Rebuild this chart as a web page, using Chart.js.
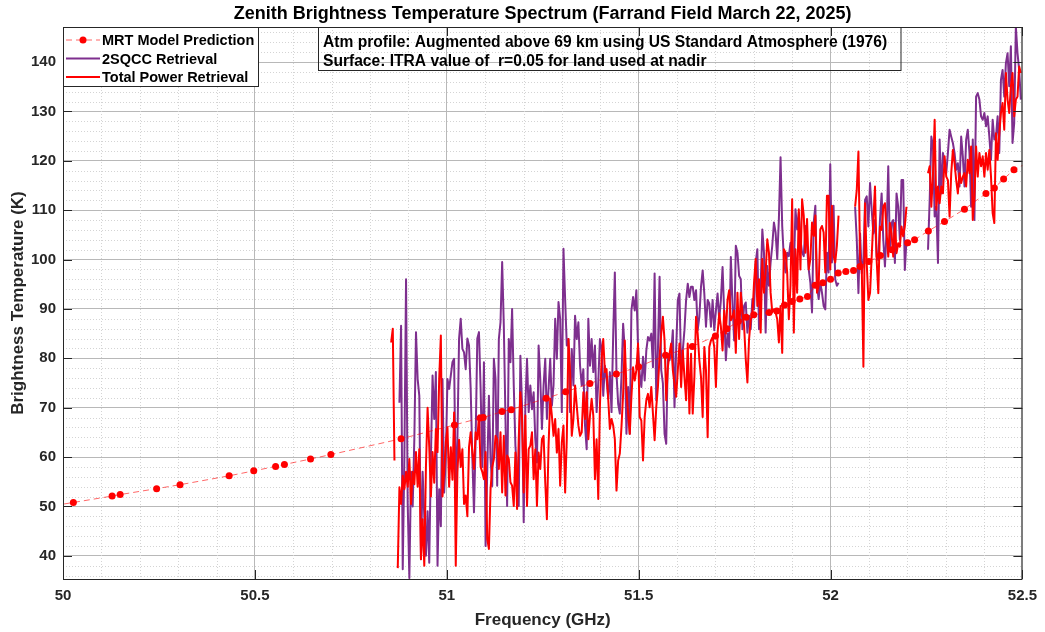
<!DOCTYPE html>
<html>
<head>
<meta charset="utf-8">
<script src="https://cdn.jsdelivr.net/npm/chart.js@4.4.1/dist/chart.umd.min.js"></script>
<style>
  html, body { margin: 0; padding: 0; background: #fff; }
</style>
</head>
<body>
<canvas id="myChart" width="1045" height="632"></canvas>
<script>
// MRT model prediction (GHz, K)
let mrtFreq = [49.90, 50.027, 50.128, 50.149, 50.244, 50.305, 50.433, 50.497, 50.554, 50.577, 50.645, 50.698,
    50.881, 51.020, 51.087, 51.095, 51.144, 51.168, 51.259, 51.310, 51.373, 51.442, 51.50, 51.57, 51.64, 51.70,
    51.73, 51.76, 51.78, 51.80, 51.84, 51.86, 51.88, 51.90, 51.92, 51.94, 51.96, 51.98, 52.00, 52.02, 52.04,
    52.06, 52.077, 52.10, 52.13, 52.16, 52.201, 52.219, 52.255, 52.297, 52.349, 52.405, 52.427, 52.451, 52.478, 52.55];
let mrtTb = [49.2, 50.8, 52.1, 52.4, 53.6, 54.4, 56.2, 57.2, 58.1, 58.5, 59.6, 60.5,
    63.7, 66.5, 67.9, 68.0, 69.2, 69.6, 71.9, 73.2, 74.9, 76.8, 78.3, 80.6, 82.4, 84.5,
    86.0, 87.5, 88.3, 88.8, 89.3, 89.6, 90.8, 91.5, 92.0, 92.5, 94.8, 95.3, 96.0, 97.3, 97.6,
    97.8, 98.6, 99.6, 100.8, 102.0, 103.4, 104.0, 105.8, 107.7, 110.2, 113.4, 114.5, 116.3, 118.2, 121.0];

// retrieval channel grid (GHz)
let chanStart = 50.8205;
let chanStep = 0.004318;

// 2SQCC retrieval (K), one value per channel, null = no data
let tb2sqcc = [
    null, null, null, null, null, null, null, null, null, null, null, null, null,
    71, 86.6, 37.3, 60, 96, 50.5, 35.5, 57, 50, 63.6, 85.3, 75.8, 72.4, 39.3, 57, 48, 40, 49, 38.6, 60,
    76.5, 67.7, 77.2, 38, 53.5, 46, 75.8, 52.8, 60, 75.8, 73.8, 76.5, 79.2, 79.9, 52.2, 63.6, 84, 88,
    81.9, 81.2, 77.8, 84, 82.6, 73.8, 60, 48.8, 63.6, 84, 85.3, 73.8, 58, 79.2, 42, 57, 72.4, 59.6, 54.1, 79.9, 75.8,
    54.2, 83.9, 87.3, 99.5, 86.6, 67.7, 50.1, 83.9, 79.2, 90, 74.5, 62.3, 56.9, 50.1, 80.5, 70.4, 46.8, 70.4,
    79.9, 69.1, 74.5, 69.7, 73.1, 63.6, 58.9, 82.6, 75.8, 65.7, 74.5, 79.9, 67.7, 73.8, 79.9, 70.4, 74.5, 88,
    79.9, 91.4, 88, 69.1, 102.2, 92, 82.6, 83.9, 69.1, 81.9, 74.5, 88.6, 83.9, 87.3, 78.5, 74.5, 77.8, 66.4,
    61.6, 88, 78.5, 83.9, 77.2, 82.6, 69.1, 75.1, 83.9, 81.9, 72.4, 78.5, 75.8, 71.8, 77.2, 69.1, 84.6, 97.4,
    76.9, 70.8, 68.8, 76.2, 87, 81.6, 64.7, 74.2, 64.7, 89.7, 92.4, 89.7, 93.8, 82.3, 76.9, 74.2, 80.3, 75.5,
    81.6, 84.3, 83.6, 85, 78.2, 97.2, 71.5, 81.6, 96.5, 77.6, 74.9, 64.7, 62.7, 80.9, 79.6, 80.9, 85.7, 70.1,
    81.6, 91.8, 93.1, 78.2, 81.6, 85.7, 91.8, 95.1, 92.4, 94.5, 94.5, 91.8, 93.8, 85.7, 88.4, 94.5, 97.8, 93.1,
    86.4, 91.8, 91.1, 86.4, 91.8, 85.7, 89.7, 93.1, 87.7, 91.8, 98.5, 89.1, 79.6, 85, 82.3, 100.5, 91.1, 83.6,
    102.8, 101.4, 96.7, 96, 85.9, 90.6, 91.3, 85.2, 88.6, 85.9, 92, 89.9, 99.4, 102.1, 85.9, 94.7, 106.1, 101.4,
    85.2, 98.7, 94.7, 99.4, 102.8, 107.5, 105.5, 100.1, 108.2, 120.7, 106.8, 100.1, 97.4, 101.4, 100.7, 103.4,
    100.1, 97.4, 110.2, 106.1, 109.5, 104.1, 101.4, 100.7, 106.8, 102.8, 98, 95.3, 89.3, 107.5, 110.9, 94.7,
    92, 95.3, 93.3, 90.6, 89.9, 101.4, 97.4, 119.3, 99.4, 110.9, 96, 94.7, 95.3, null, null, null,
    null, null, null, null, null, null,
    110.7, 104, 93.2, 105.3, 97.2, 99.9, 112.1, 112.8, 106.7, 115.5, 110.1, 105.3, 108, 100.6, 99.9, 108,
    113.4, 104, 98.6, 106, 118.9, 102, 107.4, 108, 99.3, 113.4, 110.7, 104, 116.1, 116.1, 97.9, 104,
    null, null, null, null,
    null, null, null, null, null, null, null, null,
    102, 112.1, 124.9, 122.9, 108.7, 110.7, 99.3, 124.3, 113.4, 121.6, 119.5, 117.5, 121.6, 126.3, 124.9,
    123.6, 121.6, 118.2, 119.5, 114.8, 124.9, 120.9, 114.8, 124.3, 126.3, 121.6, 110.7, 124.3, 108, 133,
    133.7, 132.4, 129, 128.3, 129.7, 127, 129, 124.9, 120.2, 128.3, 124.3, 124.9, 129, 121.6, 136.4, 138.4,
    133, 139.8, 141.8, 135.1, 143.2, 123.6, 127.6, 147.2, 141.8, 138.4, 132.4
];

// Total power retrieval (K), same channel grid
let tbTotalPower = [
    null, null, null, null, null, null, null, null,
    83.2, 86, 59.3, null, 37.5, 53.9, 50.5, 56.2, 53.5, 57, 54, 59.6, 50.5, 57, 54.5, 61, 54, 61.6, 39.3,
    47.4, 38, 58, 70, 62, 52, 61, 54.8, 65.7, 61, 75.8, 84.6, 52, 57, 63, 66, 54, 62, 55.4, 69, 38, 57,
    63.5, 58, 61.6, 50.5, 52.2, 48, 62, 65, 61, 57.6, 65, 63.6, 68.4, 58, 57, 55.5, 61, 43.4, 41.4, 53.5, 58, 59.6, 64.3,
    63.6, 57.6, 65, 52.8, 64.3, 52.2, 60.3, 59.6, 54.9, 54.2, 50.1, 60.9, 49.5, 63.6, 73.1, 67.7, 52.8, 68.4,
    50.1, 61.6, 62.3, 65, 55.5, 61.6, 50.1, 60.9, 57.6, 63.6, 64.3, 54.9, 47.4, 62.3, 71.8, 68.4, 64.3, 67.7,
    60.9, 65.7, 54.2, 63, 66.4, 52.8, 63.6, 83.9, 77.2, 64.3, 67.7, 74.5, 70.4, 66.4, 64.3, 65, 73.1, 67.7,
    73.1, 63.6, 68.4, 71.8, 68.4, 55.5, 63.6, 51.5, 70.4, 79.9, 83.9, 77.2, 77.8, 71.8, 65.7, 67.7, 66.4, 63.6,
    53.2, 59.3, 60.7, 66.1, 72.8, 83.6, 73.5, 68.8, 64.7, 72.2, 78.2, 75.5, 77.6, 83, 68.1, 67.4, 59.3, 68.1,
    71.5, 72.8, 70.1, 74.2, 68.8, 63.4, 70.1, 74.2, 80.3, 85, 88.4, 83.6, 71.5, 78.2, 80.9, 83, 77.6, 74.9,
    72.2, 77.6, 83, 74.2, 81.6, 76.2, 71.5, 83, 68.8, 80.9, 68.8, 76.2, 88.4, 85, 79.6, 76.2, 68.1, 82.3,
    77.6, 64, 82.3, 83.6, 84.3, 82.3, 74.2, 85, 89.1, 86.4, 81.6, 89.7, 85, 91.8, 93.8, 87.7, 88.4, 89.7,
    81.1, 93.3, 83.9, 93.3, 89.3, 86.6, 79.8, 75.1, 83.9, 87.9, 88.6, 95.3, 100.1, 90.6, 96, 85.2, 100.1, 93.3,
    97.4, 104.1, 101.4, 93.3, 89.3, 89.9, 89.3, 87.9, 83.2, 90.6, 81.1, 102.1, 101.4, 97.4, 87.9, 94.7, 112.2, 85.2,
    102.1, 93.3, 110.2, 98, 112.2, 108.9, 101.4, 108.2, 98, 100.1, 107.5, 104.8, 108.9, 93.3, 94.7, 106.1,
    106.8, 105.5, 97.4, 112.9, 112.9, 98, 110.9, 100.7, 99.4, 102.8, 108.9, null, null, null,
    null, null, null, null, null, null,
    110.7, 114.1, 121.9, 99.9, 98.6, 78.3, 111.4, 99.3, 91.8, 93.2, 100.6, 108, 114.8, 99.9, 93.2, 106.7,
    106, 110.7, 111.4, 105.3, 100.6, 107.4, 105.3, 100.6, 107.4, 101.3, 103.3, 102.6, 106.7, 104.7, 106.7, 110.7,
    null, null, null, null,
    null, null, null, null, null, null, null, null,
    117.5, 118.9, 110.7, 117.5, 128.3, 110.1, 114.8, 111.4, 114.8, 113.4, 120.9, 116.8, 116.1, 108.7, 117.5,
    122.2, 119.5, 116.1, 113.4, 117.5, 115.5, 116.8, 117.5, 114.8, 120.2, 117.5, 122.9, 108, 112.8, 122.9,
    116.8, 121.6, 118.9, 120.9, 116.8, 121.6, 118.2, 122.2, 116.8, 109.4, 107.4, 125.6, 120.2, 125.6, 129.7,
    131.7, 126.3, 137.8, 132.4, 129.7, 135.1, 137.8, 129, 132.4, 133, 139.1, 137.8
];

// axis ticks
let xTicks = [50, 50.5, 51, 51.5, 52, 52.5];
let yTicks = [40, 50, 60, 70, 80, 90, 100, 110, 120, 130, 140];
let xMinorStep = 0.1;
let yMinorStep = 2;

let titleText = 'Zenith Brightness Temperature Spectrum (Farrand Field March 22, 2025)';
let noteLines = ['Atm profile: Augmented above 69 km using US Standard Atmosphere (1976)',
    'Surface: ITRA value of  r=0.05 for land used at nadir'];

const FONT = '"Liberation Sans", Arial, Helvetica, sans-serif';
const INK = '#262626';
const PURPLE = '#7E2F8E';
const RED = '#FF0000';
const MRT_LINE = 'rgba(255,0,0,0.6)';

let mrtPoints = mrtFreq.map((f, i) => ({x: f, y: mrtTb[i]}));
let sqccPoints = tb2sqcc.map((v, i) => ({x: chanStart + i * chanStep, y: v}));
let tpPoints = tbTotalPower.map((v, i) => ({x: chanStart + i * chanStep, y: v}));

// minor grid, box, inward ticks, legend, note, titles
const decor = {
    id: 'decor',
    beforeDatasetsDraw(chart) {
        const {ctx, chartArea: a, scales: {x, y}} = chart;
        ctx.save();
        ctx.strokeStyle = '#d4d4d4';
        ctx.lineWidth = 1;
        ctx.setLineDash([1, 2]);
        ctx.beginPath();
        for (let k = 1; k * xMinorStep < 2.5 - 1e-9; k++) {
            const v = 50 + k * xMinorStep;
            if (xTicks.some(t => Math.abs(t - v) < 1e-6)) continue;
            const px = Math.round(x.getPixelForValue(v)) + 0.5;
            ctx.moveTo(px, a.top); ctx.lineTo(px, a.bottom);
        }
        for (let v = 36; v < 147; v += yMinorStep) {
            if (v % 10 === 0) continue;
            const py = Math.round(y.getPixelForValue(v)) + 0.5;
            ctx.moveTo(a.left, py); ctx.lineTo(a.right, py);
        }
        ctx.stroke();
        ctx.restore();
    },
    afterDatasetsDraw(chart) {
        const {ctx, chartArea: a, scales: {x, y}} = chart;
        ctx.save();
        // box and inward ticks
        ctx.strokeStyle = INK;
        ctx.lineWidth = 1;
        ctx.setLineDash([]);
        ctx.strokeRect(a.left + 0.5, a.top + 0.5, a.right - a.left - 1, a.bottom - a.top);
        ctx.beginPath();
        xTicks.forEach(t => {
            const px = Math.round(x.getPixelForValue(t)) + 0.5;
            ctx.moveTo(px, a.bottom); ctx.lineTo(px, a.bottom - 9);
            ctx.moveTo(px, a.top); ctx.lineTo(px, a.top + 9);
        });
        yTicks.forEach(t => {
            const py = Math.round(y.getPixelForValue(t)) + 0.5;
            ctx.moveTo(a.left, py); ctx.lineTo(a.left + 9, py);
            ctx.moveTo(a.right, py); ctx.lineTo(a.right - 9, py);
        });
        ctx.stroke();

        // legend
        const ds = chart.data.datasets;
        const lx = 63.5, ly = 27.5, lw = 195, lh = 59;
        ctx.fillStyle = '#fff';
        ctx.fillRect(lx, ly, lw, lh);
        ctx.strokeStyle = INK;
        ctx.strokeRect(lx, ly, lw, lh);
        const rows = [40, 58.5, 77];
        ctx.font = 'bold 14.5px ' + FONT;
        ctx.textBaseline = 'middle';
        ctx.textAlign = 'left';
        ds.forEach((d, i) => {
            const ry = rows[i];
            ctx.beginPath();
            ctx.strokeStyle = d.borderColor;
            ctx.lineWidth = d.borderWidth;
            ctx.setLineDash(d.borderDash || []);
            ctx.moveTo(66, ry); ctx.lineTo(100, ry);
            ctx.stroke();
            ctx.setLineDash([]);
            if (d.pointRadius) {
                ctx.beginPath();
                ctx.fillStyle = d.pointBackgroundColor;
                ctx.arc(83, ry, d.pointRadius, 0, Math.PI * 2);
                ctx.fill();
            }
            ctx.fillStyle = '#000';
            ctx.fillText(d.label, 102, ry + 1);
        });

        // note box
        ctx.strokeStyle = INK;
        ctx.lineWidth = 1;
        ctx.strokeRect(318.5, 27.5, 582.5, 43);
        ctx.fillStyle = '#000';
        ctx.font = 'bold 15.6px ' + FONT;
        ctx.fillText(noteLines[0], 323, 43);
        ctx.fillText(noteLines[1], 323, 62);

        // titles
        ctx.textAlign = 'center';
        ctx.font = 'bold 18px ' + FONT;
        ctx.fillText(titleText, (a.left + a.right) / 2, 14);
        ctx.font = 'bold 17px ' + FONT;
        ctx.fillStyle = INK;
        ctx.fillText('Frequency (GHz)', (a.left + a.right) / 2, 620);
        ctx.translate(18, (a.top + a.bottom) / 2);
        ctx.rotate(-Math.PI / 2);
        ctx.fillText('Brightness Temperature (K)', 0, 0);
        ctx.restore();
    }
};

let ctx = document.getElementById('myChart');

let myChart = new Chart(ctx, {
    type: 'line',
    data: {
        datasets: [{
            label: 'MRT Model Prediction',
            data: mrtPoints,
            borderColor: MRT_LINE,
            borderWidth: 1,
            borderDash: [6, 4],
            pointRadius: 3.5,
            pointBackgroundColor: RED,
            pointBorderColor: RED,
            pointBorderWidth: 0,
            order: 0
        }, {
            label: '2SQCC Retrieval',
            data: sqccPoints,
            borderColor: PURPLE,
            borderWidth: 2,
            pointRadius: 0,
            borderJoinStyle: 'round',
            order: 2
        }, {
            label: 'Total Power Retrieval',
            data: tpPoints,
            borderColor: RED,
            borderWidth: 2,
            pointRadius: 0,
            borderJoinStyle: 'round',
            order: 1
        }]
    },
    options: {
        responsive: false,
        animation: false,
        devicePixelRatio: 1,
        spanGaps: false,
        layout: {padding: {left: 0, right: 17, top: 27, bottom: 0}},
        plugins: {legend: {display: false}, title: {display: false}, tooltip: {enabled: false}},
        scales: {
            x: {
                type: 'linear', min: 50, max: 52.5,
                afterBuildTicks: s => { s.ticks = xTicks.map(v => ({value: v})); },
                afterFit: s => { s.height = 53; },
                grid: {color: '#b8b8b8', drawTicks: false},
                border: {display: false},
                ticks: {padding: 8, color: INK, maxRotation: 0, autoSkip: false,
                    callback: v => String(v),
                    font: {family: FONT, size: 15, weight: 'bold'}}
            },
            y: {
                type: 'linear', min: 35.3, max: 147.1,
                afterBuildTicks: s => { s.ticks = yTicks.map(v => ({value: v})); },
                afterFit: s => { s.width = 63; },
                grid: {color: '#b8b8b8', drawTicks: false},
                border: {display: false},
                ticks: {padding: 7, color: INK,
                    callback: v => String(v),
                    font: {family: FONT, size: 15, weight: 'bold'}}
            }
        }
    },
    plugins: [decor]
});
</script>
</body>
</html>
